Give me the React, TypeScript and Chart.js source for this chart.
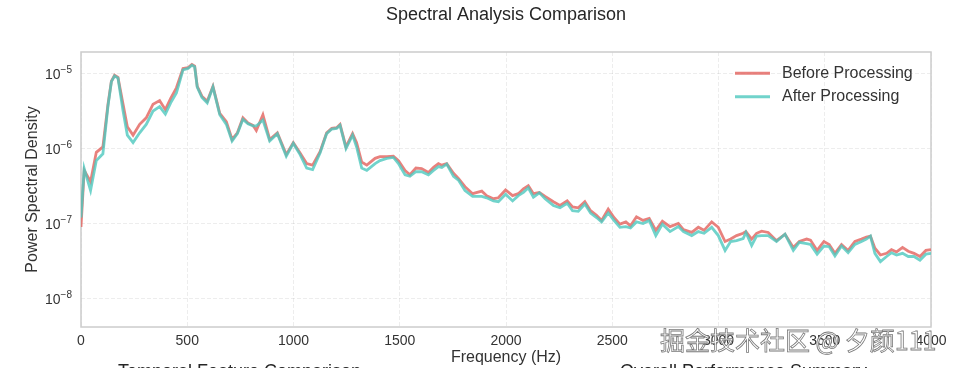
import React, { useEffect, useRef } from "react";
import { Chart, registerables } from "chart.js";

Chart.register(...registerables);

const FONT = '"Liberation Sans", Arial, "DejaVu Sans", sans-serif';

const chartTitle = "Spectral Analysis Comparison";
const xAxisTitle = "Frequency (Hz)";
const yAxisTitle = "Power Spectral Density";
const seriesNames = ["Before Processing", "After Processing"];
const lowerPanelTitles = ["Temporal Feature Comparison", "Overall Performance Summary"];
const watermark = "掘金技术社区 @ 夕颜111";

const xTickStep = 500;
const xRange = [0, 4000];
const yRange = [4.16e-9, 1.94e-5];
const yDecadeTicks = [1e-8, 1e-7, 1e-6, 1e-5];

const freqHz = [
  0, 15, 45, 72, 103, 127, 143, 158, 174, 198,
  218, 245, 276, 307, 339, 370, 397, 422, 449, 480,
  504, 522, 535, 547, 569, 594, 621, 653, 684, 711,
  736, 762, 786, 809, 825, 856, 888, 924, 966, 999,
  1031, 1062, 1090, 1125, 1156, 1180, 1203, 1219, 1247, 1278,
  1297, 1321, 1345, 1384, 1407, 1439, 1470, 1494, 1525, 1548,
  1576, 1603, 1635, 1659, 1682, 1698, 1721, 1753, 1776, 1807,
  1843, 1886, 1909, 1941, 1964, 1998, 2031, 2058, 2082, 2105,
  2129, 2157, 2184, 2223, 2254, 2288, 2313, 2340, 2371, 2398,
  2426, 2450, 2481, 2508, 2536, 2564, 2586, 2614, 2645, 2674,
  2705, 2736, 2772, 2811, 2835, 2874, 2905, 2932, 2968, 2999,
  3031, 3057, 3085, 3116, 3129, 3156, 3179, 3203, 3234, 3273,
  3313, 3352, 3380, 3415, 3433, 3464, 3496, 3521, 3548, 3579,
  3610, 3642, 3673, 3696, 3715, 3736, 3762, 3791, 3814, 3838,
  3866, 3893, 3920, 3948, 3976, 4000,
];

const beforePSD = [
  9e-8, 5.1e-7, 3.6e-7, 8.9e-7, 1.05e-6, 3.9e-6, 7.9e-6, 9.5e-6, 8.9e-6, 3.9e-6,
  1.95e-6, 1.51e-6, 2.1e-6, 2.57e-6, 3.9e-6, 4.37e-6, 3.3e-6, 4.68e-6, 6.46e-6, 1.17e-5,
  1.2e-5, 1.32e-5, 1.26e-5, 6.76e-6, 5.0e-6, 4.27e-6, 6.76e-6, 2.95e-6, 2.29e-6, 1.32e-6,
  1.62e-6, 2.57e-6, 2.19e-6, 2.04e-6, 1.74e-6, 2.82e-6, 1.32e-6, 1.62e-6, 8.3e-7, 1.2e-6,
  8.7e-7, 6.3e-7, 6.0e-7, 9.1e-7, 1.62e-6, 1.86e-6, 1.9e-6, 2.1e-6, 1.05e-6, 1.58e-6,
  1.2e-6, 6.6e-7, 6.0e-7, 7.4e-7, 7.8e-7, 7.8e-7, 7.9e-7, 6.9e-7, 5.1e-7, 4.47e-7,
  5.5e-7, 5.4e-7, 4.8e-7, 5.6e-7, 6.3e-7, 6.0e-7, 6.3e-7, 4.68e-7, 4.0e-7, 3.1e-7,
  2.5e-7, 2.7e-7, 2.35e-7, 2.14e-7, 2.2e-7, 2.8e-7, 2.35e-7, 2.5e-7, 2.9e-7, 3.2e-7,
  2.5e-7, 2.6e-7, 2.3e-7, 1.95e-7, 1.74e-7, 2.0e-7, 1.66e-7, 1.62e-7, 1.95e-7, 1.48e-7,
  1.29e-7, 1.1e-7, 1.55e-7, 1.2e-7, 9.8e-8, 1.05e-7, 9.3e-8, 1.23e-7, 1.1e-7, 1.17e-7,
  8.1e-8, 1.07e-7, 9.1e-8, 1.0e-7, 8.3e-8, 7.6e-8, 8.9e-8, 8.1e-8, 1.05e-7, 8.9e-8,
  5.75e-8, 6.2e-8, 6.9e-8, 7.4e-8, 7.8e-8, 6.2e-8, 7.4e-8, 7.9e-8, 7.6e-8, 5.9e-8,
  7.2e-8, 4.8e-8, 5.75e-8, 6.2e-8, 6.0e-8, 4.37e-8, 5.75e-8, 5.25e-8, 4.0e-8, 5.25e-8,
  4.37e-8, 5.75e-8, 6.2e-8, 6.6e-8, 6.8e-8, 4.68e-8, 3.8e-8, 4.0e-8, 4.47e-8, 4.17e-8,
  4.8e-8, 4.27e-8, 4.0e-8, 3.63e-8, 4.37e-8, 4.47e-8,
];

const afterPSD = [
  1.2e-7, 5.4e-7, 2.75e-7, 6.9e-7, 8.5e-7, 3.7e-6, 7.8e-6, 9.3e-6, 8.7e-6, 3.16e-6,
  1.51e-6, 1.2e-6, 1.62e-6, 2.1e-6, 3.16e-6, 3.63e-6, 2.88e-6, 4.07e-6, 5.5e-6, 1.12e-5,
  1.17e-5, 1.29e-5, 1.23e-5, 6.6e-6, 4.8e-6, 4.07e-6, 6.6e-6, 2.82e-6, 2.1e-6, 1.26e-6,
  1.58e-6, 2.45e-6, 2.14e-6, 2.0e-6, 2.0e-6, 2.4e-6, 1.26e-6, 1.58e-6, 7.9e-7, 1.17e-6,
  8.3e-7, 5.5e-7, 5.25e-7, 8.7e-7, 1.58e-6, 1.82e-6, 1.86e-6, 2.04e-6, 1.0e-6, 1.51e-6,
  1.05e-6, 5.5e-7, 5.1e-7, 6.3e-7, 6.9e-7, 7.4e-7, 7.6e-7, 6.3e-7, 4.47e-7, 4.27e-7,
  4.9e-7, 4.9e-7, 4.47e-7, 5.1e-7, 5.75e-7, 5.6e-7, 6.2e-7, 4.27e-7, 3.8e-7, 2.75e-7,
  2.3e-7, 2.3e-7, 2.2e-7, 2.0e-7, 1.95e-7, 2.45e-7, 2.0e-7, 2.35e-7, 2.6e-7, 3.0e-7,
  2.24e-7, 2.57e-7, 2.14e-7, 1.74e-7, 1.62e-7, 1.86e-7, 1.48e-7, 1.45e-7, 1.82e-7, 1.38e-7,
  1.2e-7, 1.05e-7, 1.38e-7, 1.1e-7, 8.9e-8, 9.1e-8, 8.7e-8, 1.05e-7, 1.0e-7, 1.1e-7,
  6.9e-8, 9.8e-8, 7.8e-8, 9.1e-8, 7.8e-8, 6.9e-8, 7.8e-8, 7.4e-8, 8.9e-8, 6.9e-8,
  4.37e-8, 5.75e-8, 5.9e-8, 6.3e-8, 7.6e-8, 5.1e-8, 6.8e-8, 6.9e-8, 6.9e-8, 5.75e-8,
  7.2e-8, 4.37e-8, 5.6e-8, 5.4e-8, 5.25e-8, 3.9e-8, 5.0e-8, 4.9e-8, 3.7e-8, 5.0e-8,
  4.07e-8, 5.25e-8, 5.75e-8, 6.2e-8, 6.8e-8, 4.0e-8, 3.1e-8, 3.63e-8, 4.07e-8, 3.8e-8,
  4.0e-8, 3.63e-8, 3.63e-8, 3.24e-8, 3.9e-8, 4.0e-8,
];

const seriesColors = ["rgba(226,98,92,0.8)", "rgba(78,200,190,0.8)"];

const overlayPlugin = {
  id: "overlayText",
  beforeDatasetsDraw(chart: any) {
    const { ctx, chartArea } = chart;
    ctx.save();
    ctx.strokeStyle = "#cccccc";
    ctx.lineWidth = 1.5;
    ctx.strokeRect(chartArea.left, chartArea.top, chartArea.right - chartArea.left, chartArea.bottom - chartArea.top);
    ctx.restore();
  },
  afterDraw(chart: any) {
    const { ctx, chartArea } = chart;
    const yScale = chart.scales.y;
    const cx = (chartArea.left + chartArea.right) / 2;
    const cy = (chartArea.top + chartArea.bottom) / 2;
    ctx.save();
    ctx.fillStyle = "#262626";
    ctx.font = `18px ${FONT}`;
    ctx.textAlign = "center";
    ctx.textBaseline = "middle";
    ctx.fillText(chartTitle, cx, 15);
    ctx.font = `16px ${FONT}`;
    ctx.fillStyle = "#333333";
    ctx.fillText(xAxisTitle, cx, 358);
    ctx.save();
    ctx.translate(33, cy);
    ctx.rotate(-Math.PI / 2);
    ctx.fillText(yAxisTitle, 0, 0);
    ctx.restore();
    const rightEdge = chartArea.left - 9;
    yDecadeTicks.forEach((v) => {
      const py = yScale.getPixelForValue(v);
      const exp = "\u2212" + Math.round(-Math.log10(v));
      ctx.font = `10px ${FONT}`;
      const ew = ctx.measureText(exp).width;
      ctx.font = `14px ${FONT}`;
      const bw = ctx.measureText("10").width;
      ctx.textAlign = "left";
      ctx.textBaseline = "alphabetic";
      ctx.fillStyle = "#333333";
      ctx.fillText("10", rightEdge - ew - bw, py + 5.5);
      ctx.font = `10px ${FONT}`;
      ctx.fillText(exp, rightEdge - ew, py - 0.5);
    });
    const legendRows = [73.3, 96.7];
    chart.data.datasets.forEach((ds: any, i: number) => {
      const ly = legendRows[i];
      ctx.strokeStyle = ds.borderColor;
      ctx.lineWidth = 3;
      ctx.beginPath();
      ctx.moveTo(735, ly);
      ctx.lineTo(770, ly);
      ctx.stroke();
      ctx.fillStyle = "#333333";
      ctx.font = `16px ${FONT}`;
      ctx.textAlign = "left";
      ctx.textBaseline = "middle";
      ctx.fillText(ds.label, 782, ly);
    });
    ctx.fillStyle = "#262626";
    ctx.font = `18px ${FONT}`;
    ctx.textAlign = "left";
    ctx.textBaseline = "alphabetic";
    ctx.fillText(lowerPanelTitles[0], 118, 376.5);
    ctx.fillText(lowerPanelTitles[1], 620, 376.5);
    ctx.restore();
  },
};

export default function App() {
  const ref = useRef<HTMLCanvasElement | null>(null);

  useEffect(() => {
    const canvas = ref.current;
    if (!canvas) return;
    const makeData = (vals: number[]) => freqHz.map((f, i) => ({ x: f, y: vals[i] }));
    const chart = new Chart(canvas, {
      type: "line",
      data: {
        datasets: [
          {
            label: seriesNames[0],
            data: makeData(beforePSD),
            borderColor: seriesColors[0],
            backgroundColor: seriesColors[0],
            borderWidth: 2.8,
            pointRadius: 0,
            tension: 0,
            fill: false,
            order: 2,
          },
          {
            label: seriesNames[1],
            data: makeData(afterPSD),
            borderColor: seriesColors[1],
            backgroundColor: seriesColors[1],
            borderWidth: 2.8,
            pointRadius: 0,
            tension: 0,
            fill: false,
            order: 1,
          },
        ],
      },
      options: {
        responsive: false,
        animation: false,
        layout: { padding: { left: 0, right: 23, top: 52, bottom: 0 } },
        plugins: {
          legend: { display: false },
          title: { display: false },
          tooltip: { enabled: false },
        },
        scales: {
          x: {
            type: "linear",
            min: xRange[0],
            max: xRange[1],
            ticks: {
              stepSize: xTickStep,
              color: "#333333",
              font: { family: FONT, size: 14 },
              padding: 6,
              maxRotation: 0,
              callback: (v: any) => String(v),
            },
            grid: { color: "rgba(0,0,0,0.07)", drawTicks: false, lineWidth: 1 },
            border: { display: false, dash: [4, 2] },
            afterFit: (s: any) => {
              s.height = 41;
            },
          },
          y: {
            type: "logarithmic",
            min: yRange[0],
            max: yRange[1],
            ticks: { display: false },
            afterBuildTicks: (s: any) => {
              s.ticks = yDecadeTicks.map((v) => ({ value: v }));
            },
            grid: { color: "rgba(0,0,0,0.07)", drawTicks: false, lineWidth: 1 },
            border: { display: false, dash: [4, 2] },
            afterFit: (s: any) => {
              s.width = 81;
            },
          },
        },
      },
      plugins: [overlayPlugin],
    } as any);
    return () => chart.destroy();
  }, []);

  return (
    <div style={{ position: "fixed", left: 0, top: 0, width: 954, height: 368, background: "#ffffff", overflow: "hidden" }}>
      <canvas ref={ref} width={954} height={368} style={{ display: "block", width: 954, height: 368 }} />
      <div
        style={{
          position: "absolute",
          left: 660,
          top: 323,
          fontSize: 25,
          lineHeight: "32px",
          fontFamily: '"Noto Sans CJK SC", sans-serif',
          color: "rgba(255,255,255,0.9)",
          WebkitTextStroke: "0.8px #7a7a7a",
          whiteSpace: "nowrap",
          pointerEvents: "none",
        }}
      >
        {watermark}
      </div>
    </div>
  );
}
